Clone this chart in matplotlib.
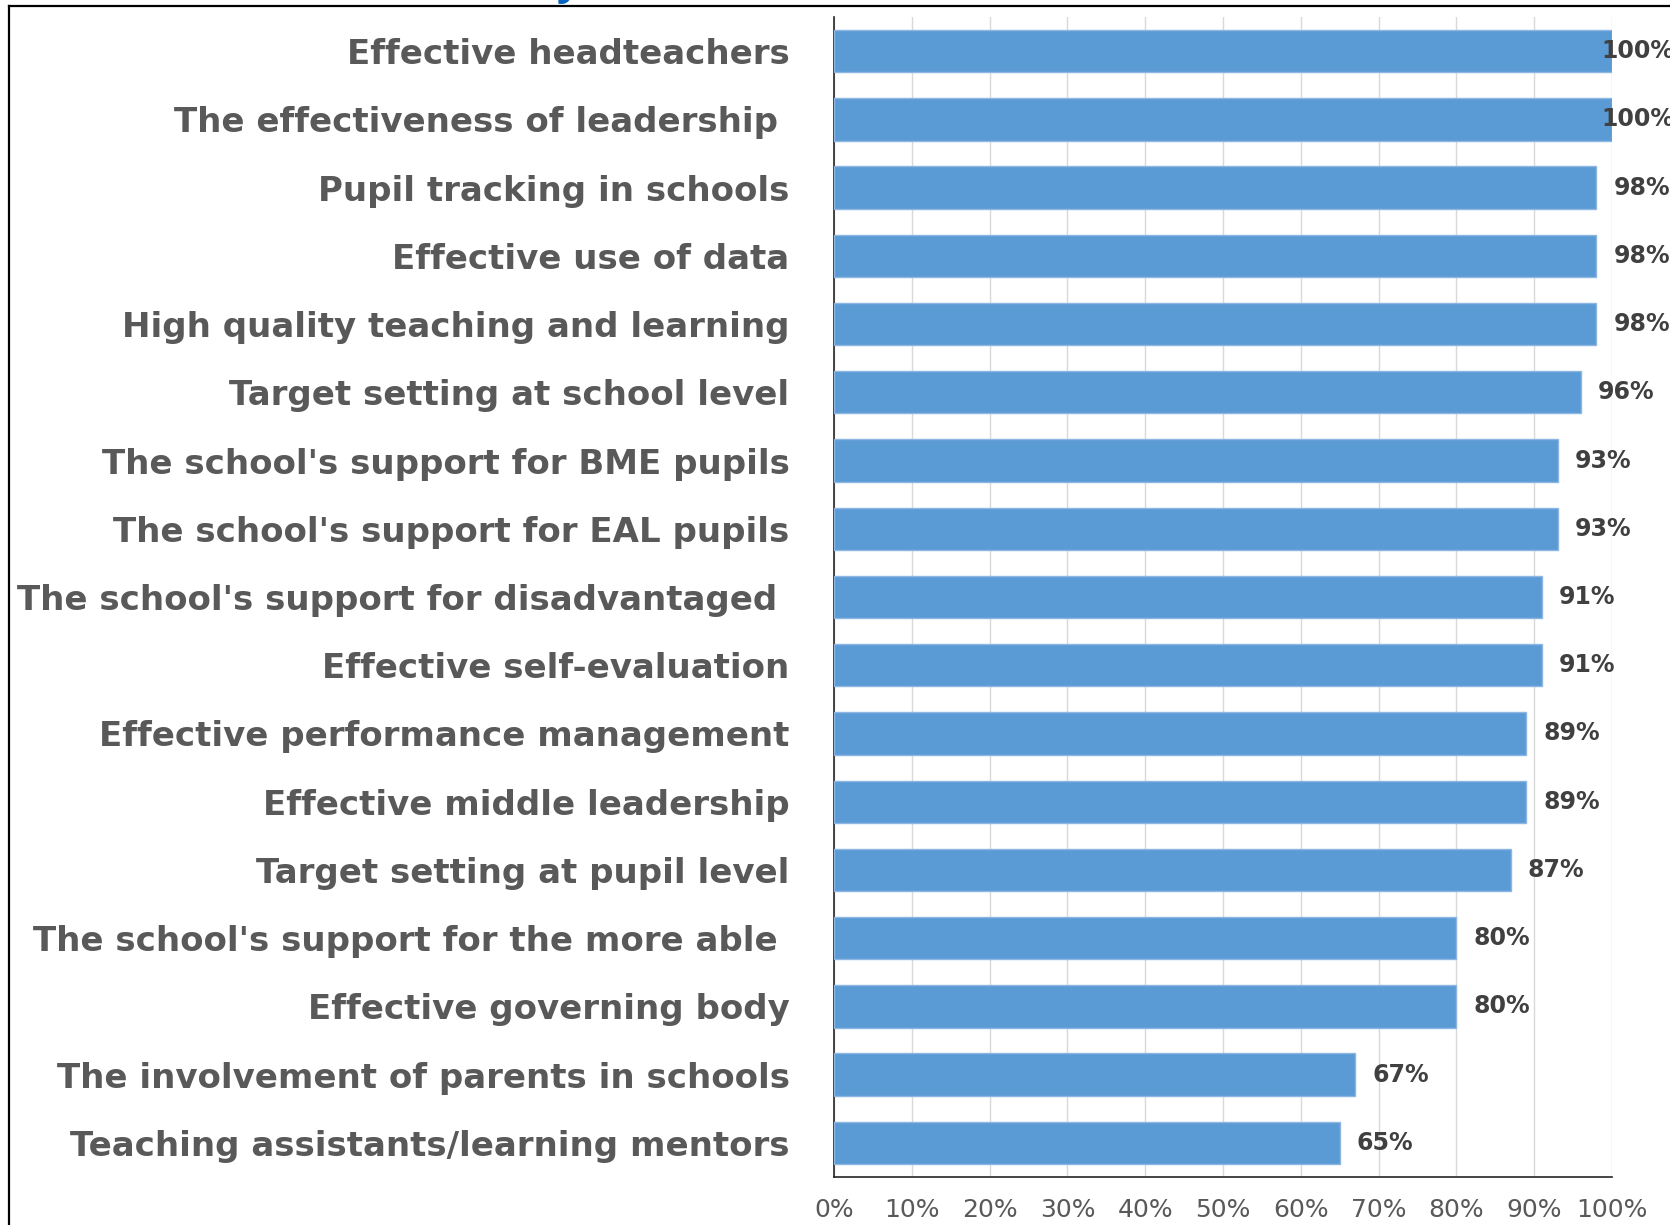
import matplotlib
matplotlib.use("Agg")
import matplotlib.pyplot as plt
from matplotlib.lines import Line2D
import numpy as np

categories = [
    "Effective headteachers",
    "The effectiveness of leadership ",
    "Pupil tracking in schools",
    "Effective use of data",
    "High quality teaching and learning",
    "Target setting at school level",
    "The school's support for BME pupils",
    "The school's support for EAL pupils",
    "The school's support for disadvantaged ",
    "Effective self-evaluation",
    "Effective performance management",
    "Effective middle leadership",
    "Target setting at pupil level",
    "The school's support for the more able ",
    "Effective governing body",
    "The involvement of parents in schools",
    "Teaching assistants/learning mentors",
]
values = [100, 100, 98, 98, 98, 96, 93, 93, 91, 91, 89, 89, 87, 80, 80, 67, 65]
tick_values = [0, 10, 20, 30, 40, 50, 60, 70, 80, 90, 100]
tick_labels = [f"{t}%" for t in tick_values]

W, H = 1670, 1225
fig = plt.figure(figsize=(W / 100, H / 100), dpi=100)
ax = fig.add_axes([834 / W, 1 - 1177 / H, (1612 - 834) / W, (1177 - 17) / H])

y = np.arange(len(categories))
ax.barh(y, values, height=0.62, color="#5B9BD5", edgecolor="#8DB6E2",
        linewidth=1, zorder=3)
ax.set_ylim(len(categories) - 0.5, -0.5)
ax.set_xlim(0, 100)
ax.set_yticks(y)
ax.set_yticklabels(categories, fontfamily="DejaVu Sans", fontweight="bold",
                   fontsize=24.5, color="#595959")
ax.set_xticks(tick_values)
ax.set_xticklabels(tick_labels, fontfamily="DejaVu Sans", fontsize=18,
                   color="#595959")
ax.tick_params(axis="y", length=0, pad=32)
ax.tick_params(axis="x", length=0, pad=15)
ax.grid(axis="x", color="#D9D9D9", linewidth=1, zorder=0)
ax.set_axisbelow(True)
for s in ["top", "right"]:
    ax.spines[s].set_visible(False)
for s in ["left", "bottom"]:
    ax.spines[s].set_color("#262626")
    ax.spines[s].set_linewidth(1.2)

for yi, v in zip(y, values):
    xpos = v + 2.2 if v < 99 else v - 1.4
    ax.text(xpos, yi, f"{v}%", ha="left", va="center",
            fontfamily="DejaVu Sans", fontweight="bold", fontsize=17,
            color="#404040", zorder=5, clip_on=False)

fig.add_artist(Line2D([9 / W, 1], [1 - 6 / H] * 2, color="black", lw=1.6))
fig.add_artist(Line2D([9 / W] * 2, [0, 1 - 6 / H], color="black", lw=1.6))
fig.text(556 / W, 1 + 6 / H, "y", fontsize=30, fontweight="bold",
         color="#0563C1", va="baseline", ha="left", fontfamily="Open Sans")

fig.savefig("out.png", dpi=100)
